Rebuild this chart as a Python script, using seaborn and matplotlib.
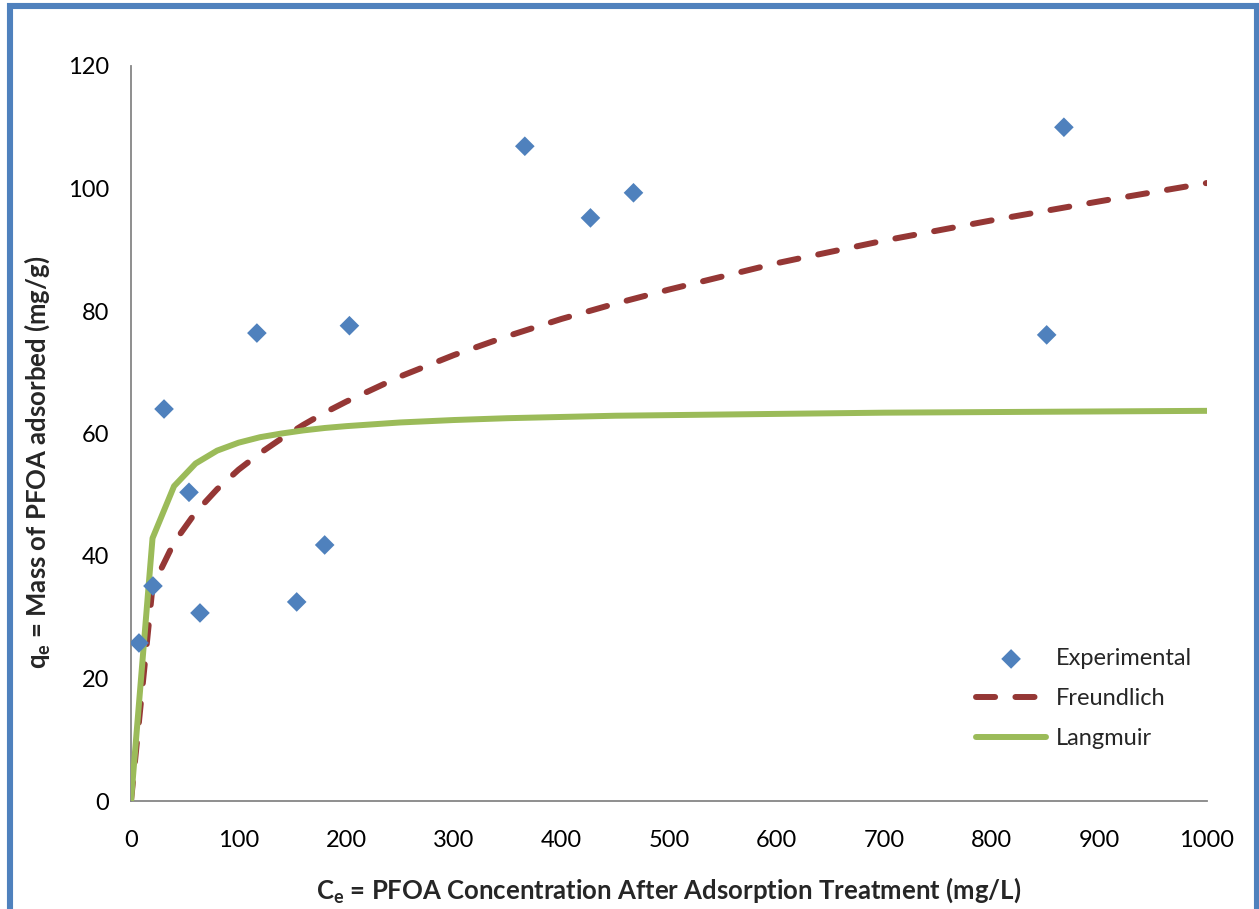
import matplotlib
matplotlib.use('Agg')
import matplotlib.pyplot as plt
import seaborn as sns
from matplotlib.patches import Rectangle

ce_exp = [7.4, 20.4, 30.7, 53.9, 64.1, 117, 154, 180, 203, 366, 427, 467, 851, 867]
qe_exp = [25.8, 35.1, 64.0, 50.4, 30.7, 76.4, 32.5, 41.8, 77.6, 106.9, 95.2, 99.3, 76.1, 110.0]

ce_fit = [0, 20, 40, 60, 80, 100, 120, 140, 160, 180, 200, 250, 300, 350, 400,
          450, 500, 600, 700, 800, 900, 1000]
q_freundlich = [0, 35.0, 42.2, 47.1, 50.9, 54.1, 56.8, 59.2, 61.4, 63.4, 65.2, 69.3,
                72.8, 75.9, 78.7, 81.2, 83.5, 87.8, 91.5, 94.8, 97.9, 100.9]
q_langmuir = [0, 42.9, 51.4, 55.1, 57.2, 58.5, 59.4, 60.0, 60.5, 60.9, 61.2, 61.8,
              62.2, 62.5, 62.7, 62.9, 63.0, 63.2, 63.4, 63.5, 63.6, 63.7]

x_ticks = list(range(0, 1001, 100))
y_ticks = list(range(0, 121, 20))

sns.set_style('white')
plt.rcParams['font.family'] = ['Lato', 'DejaVu Sans']
plt.rcParams['mathtext.fontset'] = 'custom'
plt.rcParams['mathtext.rm'] = 'Lato'
plt.rcParams['mathtext.bf'] = 'Lato:bold'

fig = plt.figure(figsize=(12.59, 9.09), dpi=100)
ax = fig.add_axes([131 / 1259, 108 / 909, 1076 / 1259, 735 / 909])

sns.lineplot(x=ce_fit, y=q_freundlich, ax=ax, color='#953735', lw=4.3,
             sort=False, estimator=None, label='Freundlich',
             dashes=False, zorder=2)
ax.lines[-1].set_dashes((3.2, 3.4))
ax.lines[-1].set_dash_capstyle('round')
sns.lineplot(x=ce_fit, y=q_langmuir, ax=ax, color='#9BBB59', lw=4.3,
             sort=False, estimator=None, label='Langmuir', zorder=3)
sns.scatterplot(x=ce_exp, y=qe_exp, ax=ax, marker='D', s=100, color='#4F81BD',
                edgecolor='none', label='Experimental', zorder=4)

ax.set_xlim(0, 1000)
ax.set_ylim(0, 120)
ax.set_xticks(x_ticks)
ax.set_yticks(y_ticks)
ax.tick_params(axis='both', direction='out', length=5, width=1.2, color='#868686',
               labelsize=17, labelcolor='black')
ax.tick_params(axis='y', pad=11)
ax.tick_params(axis='x', pad=16)
for side in ['top', 'right']:
    ax.spines[side].set_visible(False)
for side in ['left', 'bottom']:
    ax.spines[side].set_color('#868686')
    ax.spines[side].set_linewidth(1.3)

ax.set_xlabel(r'$\mathbf{C_e}$ = PFOA Concentration After Adsorption Treatment (mg/L)',
              fontsize=18.5, fontweight='bold')
ax.set_ylabel(r'$\mathbf{q_e}$ = Mass of PFOA adsorbed (mg/g)',
              fontsize=18.5, fontweight='bold')
ax.xaxis.set_label_coords(0.5, -0.102)
ax.yaxis.set_label_coords(-0.073, 0.461)

handles, labels = ax.get_legend_handles_labels()
order = [labels.index(n) for n in ['Experimental', 'Freundlich', 'Langmuir']]
ax.legend([handles[i] for i in order], [labels[i] for i in order],
          loc='upper left', bbox_to_anchor=(0.785, 0.208), frameon=False,
          fontsize=17, handlelength=3.0, handletextpad=0.4, labelspacing=0.8,
          borderpad=0, borderaxespad=0)

# Marco azul tipo Excel
fig.patches.append(Rectangle((10 / 1259, -0.05), 1247 / 1259, 0.05 + 903 / 909,
                             transform=fig.transFigure, fill=False,
                             edgecolor='#4F81BD', linewidth=4.4, zorder=0))

fig.savefig('out.png', dpi=100)
